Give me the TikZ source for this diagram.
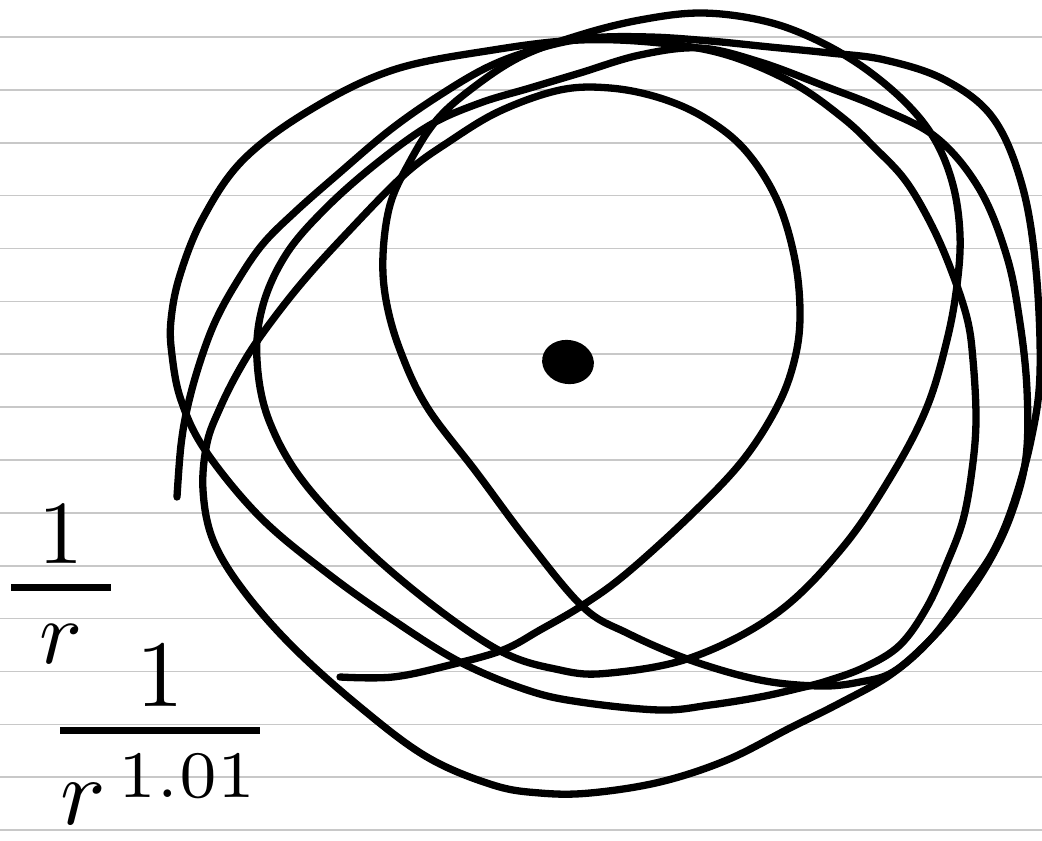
\documentclass[tikz,border=0pt]{standalone}
\usepackage{amsmath}
\definecolor{rulegray}{RGB}{200,200,200}
\begin{document}
\begin{tikzpicture}[x=1pt,y=-1pt,
  orbit/.style={line width=7.3pt, line cap=round, line join=round, black},
  ruled/.style={line width=1.6pt, rulegray},
  hand/.style={inner sep=0pt, outer sep=0pt, anchor=base, black}]
\useasboundingbox (0,0) rectangle (1042,841);
\fill[white] (0,0) rectangle (1042,841);
\foreach \k in {0,...,15} \draw[ruled] (0,37+52.87*\k) -- (1042,37+52.87*\k);

% open stroke
\draw[orbit] plot[smooth, tension=0.6] coordinates {
 (177,497) (181,445) (188,405) (200,362) (215,322) (235,285) (262,245) (295,212)
 (337,175) (390,130) (440,95) (490,66) (540,48) (590,38) (650,37) (710,41)
 (770,47) (830,53) (885,60) (945,80) (993,118) (1022,185) (1036,270) (1040,373)
 (1031,440) (1013,505) (993,552) (965,593) (930,640) (890,675) (840,703) (790,728)
 (727,760) (660,782) (590,793) (540,793) (493,785) (427,757) (360,707) (293,647)
 (243,590) (213,540) (203,490) (207,443) (220,408) (238,372) (260,337) (300,285)
 (347,233) (405,174) (450,141) (500,111) (560,90) (610,88) (660,98) (705,118)
 (745,150) (777,200) (795,260) (800,317) (794,362) (777,407) (743,460)
 (693,513) (627,573) (583,605) (540,630) (503,650) (450,665) (393,677) (340,677)};

% closed precessing loop
\draw[orbit] plot[smooth cycle, tension=0.6] coordinates {
 (893,672) (860,682) (820,686) (760,680) (690,660) (627,633) (583,607) (527,540)
 (477,473) (427,407) (400,350) (386,300) (383,255) (390,205) (408,165) (435,122)
 (470,90) (520,57) (580,35) (640,20) (700,13) (760,20) (810,37) (860,65)
 (905,102) (935,140) (953,185) (960,235) (957,285) (947,340) (927,407) (893,473)
 (843,547) (777,613) (693,657) (610,673) (560,670) (493,647) (393,573) (310,490)
 (270,423) (257,360) (263,305) (287,253) (327,207) (377,163) (430,125) (480,103)
 (530,88) (580,73) (640,55) (700,48) (760,62) (827,87) (880,108) (937,138)
 (980,190) (1007,257) (1020,323) (1027,390) (1026,457) (1012,512) (990,560) (960,605)
 (930,640)};

% large closed ellipse
\draw[orbit] plot[smooth cycle, tension=0.6] coordinates {
 (172,355) (181,400) (205,450) (260,517) (327,573) (393,620) (460,662) (527,690)
 (580,702) (660,710) (710,705) (760,697) (800,688) (827,681) (865,667) (900,645)
 (927,607) (947,563) (963,520) (972,470) (976,420) (973,360) (967,318) (950,267)
 (930,222) (905,180) (875,148) (843,118) (793,83) (727,55) (660,43) (580,40)
 (493,50) (393,70) (310,110) (243,160) (203,218) (180,275) (171,320)};

% central body
\fill[black] (568,362) ellipse [x radius=26pt, y radius=22pt, rotate=-10];

% labels
\node[hand, scale=9] (f1) at (61,610)
  {$\genfrac{}{}{0.8pt}{0}{\mkern5.5mu\raisebox{-1.6pt}[0pt][0pt]{$1$}\mkern5.5mu}{\raisebox{0.9pt}{$r$}}$};
\node[hand, scale=9.5] (f2) at (160,754)
  {$\genfrac{}{}{0.72pt}{0}{\raisebox{-5pt}[0pt][0pt]{$1$}}{r^{\mkern3mu1.01}}$};
\end{tikzpicture}
\end{document}
